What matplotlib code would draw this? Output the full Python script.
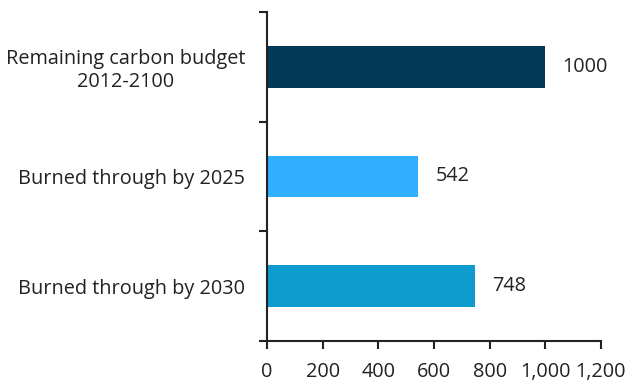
import matplotlib.pyplot as plt
from matplotlib.ticker import FuncFormatter

plt.rcParams['font.family'] = ['Open Sans', 'DejaVu Sans']

# Carbon budget data (GtCO2)
categories = ['Remaining carbon budget\n2012-2100', 'Burned through by 2025', 'Burned through by 2030']
values = [1000, 542, 748]
colors = ['#023858', '#30AFFF', '#0E9CCF']

fig = plt.figure(figsize=(6.27, 3.83), dpi=100)
ax = fig.add_axes([0.426, 0.1097, 0.5325, 0.859])

pos = [0.5, 1.5, 2.5]
ax.barh(pos, values, height=0.38, color=colors)

for p, v in zip(pos, values):
    ax.annotate(str(v), (v, p), xytext=(12.5, 0), textcoords='offset points',
                va='center', ha='left', fontsize=14.3, color='#222222')

ax.set_ylim(3, 0)
ax.set_xlim(0, 1200)
ax.set_xticks(range(0, 1201, 200))
ax.xaxis.set_major_formatter(FuncFormatter(lambda x, _: f'{int(x):,}'))

ax.set_yticks([0, 1, 2, 3])
ax.set_yticklabels([])
ax.set_yticks(pos, minor=True)
ax.set_yticklabels(categories, minor=True, ha='right', multialignment='center')
ax.tick_params(axis='y', which='minor', length=0, pad=16, labelsize=14.3, labelcolor='#222222')
ax.tick_params(axis='y', which='major', length=6, width=1.5, color='#222222')
ax.tick_params(axis='x', length=6, width=1.5, color='#222222', labelsize=14.3,
               labelcolor='#222222', pad=9)

for s in ['top', 'right']:
    ax.spines[s].set_visible(False)
for s in ['left', 'bottom']:
    ax.spines[s].set_linewidth(1.5)
    ax.spines[s].set_color('#222222')

fig.savefig('out.png', dpi=100)
